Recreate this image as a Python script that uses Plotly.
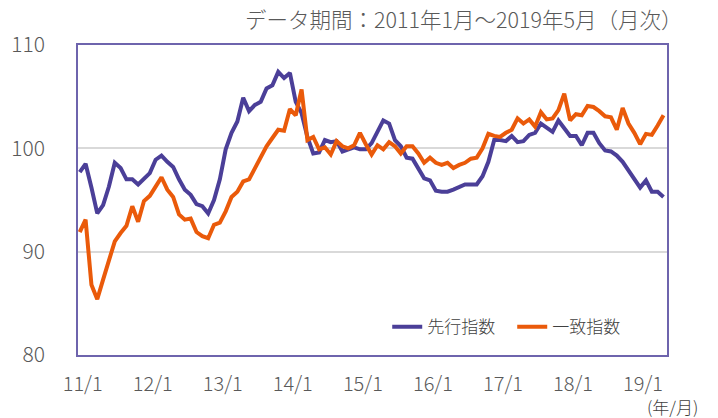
import plotly.graph_objects as go

months = [f"{2011 + i // 12}/{i % 12 + 1}" for i in range(101)]

leading = [97.7, 98.5, 96.2, 93.7, 94.5, 96.3, 98.6, 98.1, 97.0, 97.0, 96.5, 97.0,
           97.6, 98.9, 99.3, 98.7, 98.2, 97.0, 96.0, 95.5, 94.6, 94.4, 93.7, 95.0,
           97.0, 99.9, 101.5, 102.6, 104.9, 103.6, 104.2, 104.5, 105.8, 106.1, 107.4, 106.8,
           107.3, 104.5, 103.4, 101.1, 99.5, 99.6, 100.8, 100.6, 100.7, 99.7, 99.9, 100.1,
           99.9, 99.9, 100.5, 101.6, 102.7, 102.4, 100.8, 100.2, 99.1, 99.0, 98.1, 97.1,
           96.9, 95.9, 95.8, 95.8, 96.0, 96.2, 96.5, 96.5, 96.5, 97.3, 98.7, 100.8,
           100.8, 100.7, 101.2, 100.6, 100.7, 101.3, 101.5, 102.4, 102.0, 101.6, 102.7, 102.0,
           101.2, 101.2, 100.3, 101.5, 101.5, 100.5, 99.8, 99.7, 99.3, 98.7, 97.9, 97.0,
           96.2, 96.9, 95.8, 95.8, 95.3]

coincident = [91.9, 93.1, 86.8, 85.4, 87.3, 89.1, 91.0, 91.8, 92.5, 94.4, 92.9, 94.9,
              95.4, 96.3, 97.2, 96.0, 95.3, 93.6, 93.1, 93.2, 91.9, 91.5, 91.3, 92.6,
              92.8, 93.9, 95.3, 95.8, 96.8, 97.0, 98.1, 99.2, 100.2, 101.0, 101.8, 101.7,
              103.8, 103.2, 105.7, 100.8, 101.1, 99.9, 100.1, 99.4, 100.7, 100.2, 100.0, 100.3,
              101.5, 100.4, 99.4, 100.3, 99.9, 100.6, 100.2, 99.5, 100.2, 100.2, 99.5, 98.6,
              99.1, 98.6, 98.4, 98.6, 98.1, 98.4, 98.6, 99.0, 99.1, 100.0, 101.4, 101.2,
              101.1, 101.5, 101.8, 102.9, 102.4, 102.8, 102.1, 103.5, 102.8, 102.9, 103.7, 105.3,
              102.7, 103.3, 103.2, 104.1, 104.0, 103.6, 103.1, 103.0, 101.8, 103.9, 102.4, 101.5,
              100.4, 101.4, 101.3, 102.2, 103.2]

tick_idx = [0, 12, 24, 36, 48, 60, 72, 84, 96]
tick_labels = ["11/1", "12/1", "13/1", "14/1", "15/1", "16/1", "17/1", "18/1", "19/1"]

x = list(range(len(months)))
FONT = "Noto Sans CJK JP"

fig = go.Figure()
fig.add_trace(go.Scatter(x=x, y=leading, mode="lines", name="先行指数",
                         line=dict(color="#4b3f98", width=4), customdata=months))
fig.add_trace(go.Scatter(x=x, y=coincident, mode="lines", name="一致指数",
                         line=dict(color="#ea5a0a", width=4), customdata=months))

fig.update_layout(
    width=718, height=418,
    margin=dict(l=78, r=51, t=45, b=63, autoexpand=False),
    paper_bgcolor="white", plot_bgcolor="white",
    font=dict(family=FONT, color="#595959", size=16, weight=300),
    showlegend=True,
    legend=dict(orientation="h", x=0.525, y=0.09, xanchor="left", yanchor="middle",
                bgcolor="rgba(0,0,0,0)", font=dict(size=17, color="#404040", weight=300),
                itemwidth=30, entrywidth=80),
    xaxis=dict(range=[-0.3, 100.6], tickvals=[t + 0.5 for t in tick_idx], ticktext=tick_labels,
               showgrid=False, zeroline=False, showline=True, linecolor="#6e64ad",
               linewidth=1.5, mirror=True, ticks="", ticklabelstandoff=10, automargin=False,
               tickfont=dict(size=20, color="#595959", weight=300)),
    yaxis=dict(range=[80, 110], tickvals=[80, 90, 100, 110], showgrid=True,
               gridcolor="#d9d9d9", gridwidth=1.5, zeroline=False, showline=True,
               linecolor="#6e64ad", linewidth=1.5, mirror=True, ticks="", automargin=False,
               ticklabelstandoff=27, tickfont=dict(size=21, color="#595959", weight=300)),
    annotations=[
        dict(text="データ期間：2011年1月～2019年5月（月次）", xref="paper", yref="paper",
             x=1.03, y=1.0, xanchor="right", yanchor="middle", yshift=27, showarrow=False,
             font=dict(size=21.5, color="#595959", weight=300)),
        dict(text="(年/月)", xref="paper", yref="paper", x=1.056, y=0, xanchor="right",
             yanchor="middle", yshift=-51, showarrow=False,
             font=dict(size=17, color="#404040", weight=300)),
    ],
)

fig.write_html("out.html", config={"displayModeBar": False},
               post_script="document.body.style.margin='0px';")
